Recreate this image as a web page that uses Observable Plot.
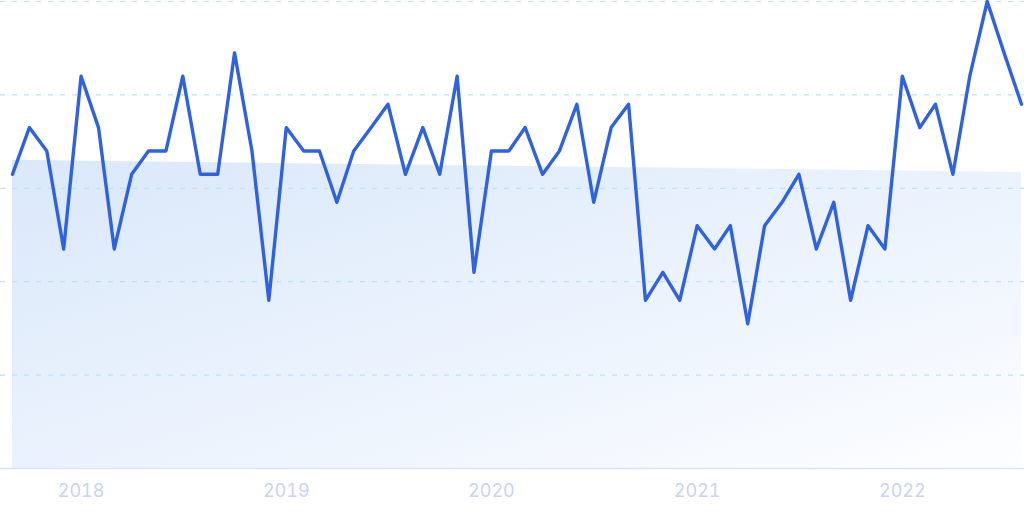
<!DOCTYPE html>
<html>
<head>
<meta charset="utf-8">
<script src="https://cdn.jsdelivr.net/npm/d3@7"></script>
<script src="https://cdn.jsdelivr.net/npm/@observablehq/plot@0.6"></script>
<style>
  html, body { margin: 0; padding: 0; background: #ffffff; }
  #chart svg { display: block; }
</style>
</head>
<body>
<div id="chart"></div>
<script>
const months = [
  "2017-09","2017-10","2017-11","2017-12",
  "2018-01","2018-02","2018-03","2018-04","2018-05","2018-06","2018-07","2018-08","2018-09","2018-10","2018-11","2018-12",
  "2019-01","2019-02","2019-03","2019-04","2019-05","2019-06","2019-07","2019-08","2019-09","2019-10","2019-11","2019-12",
  "2020-01","2020-02","2020-03","2020-04","2020-05","2020-06","2020-07","2020-08","2020-09","2020-10","2020-11","2020-12",
  "2021-01","2021-02","2021-03","2021-04","2021-05","2021-06","2021-07","2021-08","2021-09","2021-10","2021-11","2021-12",
  "2022-01","2022-02","2022-03","2022-04","2022-05","2022-06","2022-07","2022-08"
];
const values = [
  63, 73, 68, 47,
  84, 73, 47, 63, 68, 68, 84, 63, 63, 89, 68, 36,
  73, 68, 68, 57, 68, 73, 78, 63, 73, 63, 84, 42,
  68, 68, 73, 63, 68, 78, 57, 73, 78, 36, 42, 36,
  52, 47, 52, 31, 52, 57, 63, 47, 57, 36, 52, 47,
  84, 73, 78, 63, 84, 100, 89, 78
];
// shaded trend band: level at first and last month
const trendStart = 66;
const trendEnd = 63.4;
const yearTicks = ["2018", "2019", "2020", "2021", "2022"];
const gridValues = [20, 40, 60, 80, 100];

const parseMonth = d3.utcParse("%Y-%m");
const data = months.map((m, i) => ({date: parseMonth(m), value: values[i]}));
const trend = [
  {date: parseMonth(months[0]), fit: trendStart},
  {date: parseMonth(months[months.length - 1]), fit: trendEnd}
];

const defs = () => {
  const g = document.createElementNS("http://www.w3.org/2000/svg", "defs");
  g.innerHTML = `<linearGradient id="trendGrad" x1="0" y1="0" x2="1" y2="1">
      <stop offset="0" stop-color="#dae8fa"/>
      <stop offset="0.55" stop-color="#ecf3fd"/>
      <stop offset="1" stop-color="#fdfeff"/>
    </linearGradient>`;
  return g;
};

const chart = Plot.plot({
  width: 1024,
  height: 512,
  marginTop: 1,
  marginBottom: 44,
  marginLeft: 0,
  marginRight: 0,
  style: {fontFamily: "Inter, 'Noto Sans', sans-serif", background: "#ffffff", overflow: "visible"},
  x: {type: "utc", insetLeft: 12, insetRight: 3},
  y: {domain: [0, 100], axis: null},
  marks: [
    defs,
    Plot.areaY(trend, {x: "date", y1: 0, y2: "fit", fill: "url(#trendGrad)", curve: "linear"}),
    Plot.ruleY(gridValues, {stroke: "#bfe1fa", strokeWidth: 1.2, strokeDasharray: "5,7"}),
    Plot.ruleY([0], {stroke: "#dae3f8", strokeWidth: 1.5}),
    Plot.lineY(data, {x: "date", y: "value", stroke: "#2f62e0", strokeWidth: 3.4, strokeLinejoin: "round", strokeLinecap: "round"}),
    Plot.axisX(yearTicks.map(y => d3.utcParse("%Y")(y)), {
      tickSize: 0, tickPadding: 16, tickFormat: d3.utcFormat("%Y"),
      fontSize: 18, fill: "#c9d3f4", label: null
    })
  ]
});
document.getElementById("chart").appendChild(chart);
</script>
</body>
</html>
